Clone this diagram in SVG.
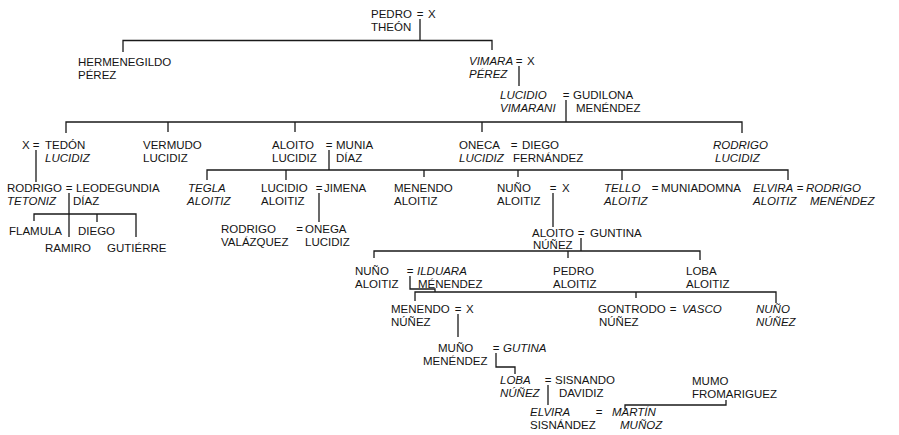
<svg xmlns="http://www.w3.org/2000/svg" width="899" height="435" viewBox="0 0 899 435">
  <style>
    text { font-family: "Liberation Sans", Arial, sans-serif; font-size: 11.5px; fill: #141414; }
    .i { font-style: italic; }
    .u { font-style: normal; }
    .eq { text-anchor: middle; }
    .ln { fill: none; stroke: #1a1a1a; stroke-width: 1.3; }
  </style>
  <rect width="899" height="435" fill="#ffffff"/>

  <!-- descent lines -->
  <g id="connectors" class="ln">
    <path d="M420 19 V40.5 M123 52 V40.5 H492 V50"/>
    <path d="M519 66 V86"/>
    <path d="M566 100 V122 M66 133 V122 H742 V133 M168 122 V132 M295 122 V132 M482 122 V132"/>
    <path d="M36 150 V182"/>
    <path d="M329 150 V170 M207 180 V170 H788 V180 M286 170 V180 M424 170 V177 M518 170 V177 M622 170 V180"/>
    <path d="M69 193 V237 M34 221 V214 H136 V237 M97 214 V222"/>
    <path d="M319 193 V222"/>
    <path d="M553 193 V227"/>
    <path d="M581 238 V251 M374 258 V251 H700 V260 M568 251 V258"/>
    <path d="M410 276 V289 H435 V292 M415 301 V292 H776 V303 M636 292 V298"/>
    <path d="M458 314 V337"/>
    <path d="M496 353 V367 H515 V374"/>
    <path d="M548 385 V405"/>
    <path d="M726 400 V405 H625 V409"/>
  </g>

  <!-- marriage signs, centred on the lines that drop from them -->
  <g id="marriages">
    <text class="eq" x="420" y="17.5">=</text>
    <text class="eq" x="519" y="65">=</text>
    <text class="eq" x="566" y="99">=</text>
    <text class="eq" x="36" y="148.5">=</text>
    <text class="eq" x="329" y="148.5">=</text>
    <text class="eq" x="514" y="148.5">=</text>
    <text class="eq" x="69" y="192">=</text>
    <text class="eq" x="319" y="192">=</text>
    <text class="eq" x="553" y="192">=</text>
    <text class="eq" x="655" y="192">=</text>
    <text class="eq" x="800" y="192">=</text>
    <text class="eq" x="299.5" y="233">=</text>
    <text class="eq" x="581" y="237">=</text>
    <text class="eq" x="410" y="275">=</text>
    <text class="eq" x="458" y="313">=</text>
    <text class="eq" x="673" y="313">=</text>
    <text class="eq" x="496" y="352">=</text>
    <text class="eq" x="548" y="384">=</text>
    <text class="eq" x="599" y="416">=</text>
  </g>

  <g id="pedro-theon"><text x="371" y="17.5">PEDRO<tspan x="371" dy="13">THEÓN</tspan></text></g>
  <g id="pedro-theon-wife"><text x="428" y="17.5">X</text></g>

  <g id="hermenegildo-perez"><text x="78" y="65.5">HERMENEGILDO<tspan x="78" dy="13">PÉREZ</tspan></text></g>
  <g id="vimara-perez"><text class="i" x="469" y="65">VIMARA<tspan x="469" dy="13">PÉREZ</tspan></text></g>
  <g id="vimara-wife"><text x="527" y="65">X</text></g>

  <g id="lucidio-vimarani"><text class="i" x="500" y="99">LUCIDIO<tspan x="500" dy="13">VIMARANI</tspan></text></g>
  <g id="gudilona-menendez"><text x="573" y="99">GUDILONA<tspan x="576" dy="13">MENÉNDEZ</tspan></text></g>

  <g id="tedon-wife"><text x="22" y="148.5">X</text></g>
  <g id="tedon-lucidiz"><text x="45" y="148.5">TEDÓN<tspan class="i" x="45" dy="13">LUCIDIZ</tspan></text></g>
  <g id="vermudo-lucidiz"><text x="143" y="148.5">VERMUDO<tspan x="143" dy="13">LUCIDIZ</tspan></text></g>
  <g id="aloito-lucidiz"><text x="272" y="148.5">ALOITO<tspan x="272" dy="13">LUCIDIZ</tspan></text></g>
  <g id="munia-diaz"><text x="336" y="148.5">MUNIA<tspan x="336" dy="13">DÍAZ</tspan></text></g>
  <g id="oneca-lucidiz"><text x="459" y="148.5">ONECA<tspan class="i" x="459" dy="13">LUCIDIZ</tspan></text></g>
  <g id="diego-fernandez"><text x="522" y="148.5">DIEGO<tspan x="513" dy="13">FERNÁNDEZ</tspan></text></g>
  <g id="rodrigo-lucidiz"><text class="i" x="713" y="148.5">RODRIGO<tspan x="715" dy="13">LUCIDIZ</tspan></text></g>

  <g id="rodrigo-tetoniz"><text x="7" y="192">RODRIGO<tspan class="i" x="7" dy="12.5">TETONIZ</tspan></text></g>
  <g id="leodegundia-diaz"><text x="76" y="192">LEODEGUNDIA<tspan x="73" dy="12.5">DÍAZ</tspan></text></g>
  <g id="flamula"><text x="9" y="235">FLAMULA</text></g>
  <g id="diego"><text x="78" y="235">DIEGO</text></g>
  <g id="ramiro"><text x="45" y="252">RAMIRO</text></g>
  <g id="gutierre"><text x="107" y="252">GUTIÉRRE</text></g>

  <g id="tegla-aloitiz"><text class="i" x="188" y="192">TEGLA<tspan x="187" dy="12.5">ALOITIZ</tspan></text></g>
  <g id="lucidio-aloitiz"><text x="261" y="192">LUCIDIO<tspan x="261" dy="12.5">ALOITIZ</tspan></text></g>
  <g id="jimena"><text x="324" y="192">JIMENA</text></g>
  <g id="rodrigo-valazquez"><text x="221" y="233">RODRIGO<tspan x="221" dy="12.5">VALÁZQUEZ</tspan></text></g>
  <g id="onega-lucidiz"><text x="305" y="233">ONEGA<tspan x="305" dy="12.5">LUCIDIZ</tspan></text></g>
  <g id="menendo-aloitiz"><text x="394" y="192">MENENDO<tspan x="394" dy="12.5">ALOITIZ</tspan></text></g>
  <g id="nuno-aloitiz"><text x="497" y="192">NUÑO<tspan x="497" dy="12.5">ALOITIZ</tspan></text></g>
  <g id="nuno-wife"><text x="562" y="192">X</text></g>
  <g id="tello-aloitiz"><text class="i" x="604" y="192">TELLO<tspan x="604" dy="12.5">ALOITIZ</tspan></text></g>
  <g id="muniadomna"><text x="661" y="192">MUNIADOMNA</text></g>
  <g id="elvira-aloitiz"><text class="i" x="753" y="192">ELVIRA<tspan x="753" dy="12.5">ALOITIZ</tspan></text></g>
  <g id="rodrigo-menendez"><text class="i" x="806" y="192">RODRIGO<tspan x="810" dy="12.5">MENÉNDEZ</tspan></text></g>

  <g id="aloito-nunez"><text x="532" y="237">ALOITO<tspan x="533" dy="12">NÚÑEZ</tspan></text></g>
  <g id="guntina"><text x="590" y="237">GUNTINA</text></g>

  <g id="nuno-aloitiz-2"><text x="355" y="275">NUÑO<tspan x="355" dy="13">ALOITIZ</tspan></text></g>
  <g id="ilduara-menendez"><text class="i" x="417" y="275">ILDUARA<tspan class="u" x="418" dy="13">MÉNENDEZ</tspan></text></g>
  <g id="pedro-aloitiz"><text x="553" y="275">PEDRO<tspan x="553" dy="13">ALOITIZ</tspan></text></g>
  <g id="loba-aloitiz"><text x="686" y="275">LOBA<tspan x="686" dy="13">ALOITIZ</tspan></text></g>

  <g id="menendo-nunez"><text x="391" y="313">MENENDO<tspan x="391" dy="13">NÚÑEZ</tspan></text></g>
  <g id="menendo-wife"><text x="466" y="313">X</text></g>
  <g id="gontrodo-nunez"><text x="598" y="313">GONTRODO<tspan x="599" dy="13">NÚÑEZ</tspan></text></g>
  <g id="vasco"><text class="i" x="682" y="313">VASCO</text></g>
  <g id="nuno-nunez"><text class="i" x="756" y="313">NUÑO<tspan x="756" dy="13">NÚÑEZ</tspan></text></g>

  <g id="muno-menendez"><text x="438" y="352">MUÑO<tspan x="423" dy="12.5">MENÉNDEZ</tspan></text></g>
  <g id="gutina"><text class="i" x="503" y="352">GUTINA</text></g>

  <g id="loba-nunez"><text class="i" x="500" y="384">LOBA<tspan x="500" dy="13">NÚÑEZ</tspan></text></g>
  <g id="sisnando-davidiz"><text x="555" y="384">SISNANDO<tspan x="559" dy="13">DAVIDIZ</tspan></text></g>

  <g id="elvira-sisnandez"><text class="i" x="530" y="416">ELVIRA<tspan class="u" x="530" dy="12.5">SISNÁNDEZ</tspan></text></g>
  <g id="martin-munoz"><text class="i" x="612" y="416">MARTÍN<tspan x="620" dy="12.5">MUÑOZ</tspan></text></g>

  <g id="mumo-fromariguez"><text x="692" y="385">MUMO<tspan x="692" dy="13">FROMARIGUEZ</tspan></text></g>
</svg>
